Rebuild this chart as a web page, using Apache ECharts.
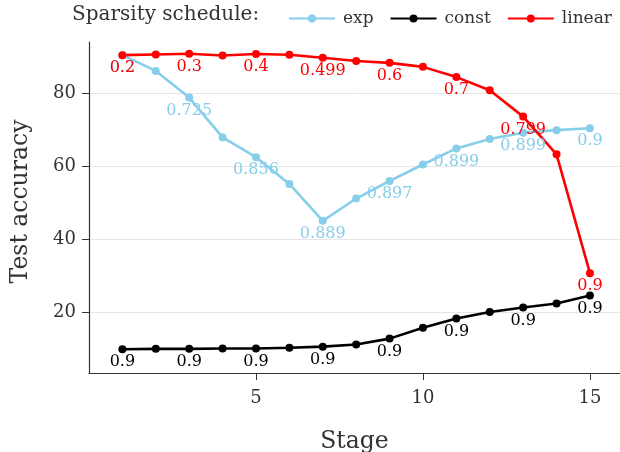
<!DOCTYPE html>
<html>
<head>
<meta charset="utf-8">
<script src="https://cdn.jsdelivr.net/npm/echarts@6/dist/echarts.min.js"></script>
<style>
  html, body { margin: 0; padding: 0; background: #fff; }
  #chart { width: 620px; height: 452px; }
</style>
</head>
<body>
<div id="chart"></div>
<script>
// stages 1..15
var stages = [1, 2, 3, 4, 5, 6, 7, 8, 9, 10, 11, 12, 13, 14, 15]

// test accuracy per schedule
var expAcc = [90.4, 86.1, 78.8, 67.9, 62.5, 55.2, 45.1, 51.2, 56.0, 60.5, 64.9, 67.5, 69.2, 69.9, 70.4]
var constAcc = [10.0, 10.1, 10.1, 10.2, 10.2, 10.4, 10.7, 11.3, 12.9, 15.9, 18.4, 20.2, 21.4, 22.5, 24.7]
var linearAcc = [90.4, 90.6, 90.8, 90.3, 90.7, 90.5, 89.7, 88.8, 88.3, 87.2, 84.4, 80.8, 73.6, 63.3, 30.8]

// sparsity labels (shown on odd stages)
var expSparsity = ['0.2', null, '0.725', null, '0.856', null, '0.889', null, '0.897', null, '0.899', null, '0.899', null, '0.9']
var constSparsity = ['0.9', null, '0.9', null, '0.9', null, '0.9', null, '0.9', null, '0.9', null, '0.9', null, '0.9']
var linearSparsity = ['0.2', null, '0.3', null, '0.4', null, '0.499', null, '0.6', null, '0.7', null, '0.799', null, '0.9']

var yTicks = [20, 40, 60, 80]
var xTicks = [5, 10, 15]

var font = 'DejaVu Serif'

function pairs(vals) {
    return stages.map(function (s, i) { return [s, vals[i]] })
}

function makeSeries(name, color, vals, labels) {
    return {
        name: name,
        type: 'line',
        data: pairs(vals),
        color: color,
        symbol: 'circle',
        symbolSize: 8,
        lineStyle: { width: 2.6, color: color },
        itemStyle: { color: color },
        animation: false,
        label: {
            show: true,
            position: 'bottom',
            distance: 1,
            color: color,
            fontFamily: font,
            fontSize: 16,
            formatter: function (p) {
                return labels[p.dataIndex] || ''
            }
        }
    }
}

let myChart = echarts.init(document.getElementById('chart'))
let option = {
    backgroundColor: '#fff',
    title: {
        text: 'Sparsity schedule:',
        left: 67,
        top: 0,
        textStyle: { fontFamily: font, fontSize: 20, fontWeight: 'normal', color: '#333' }
    },
    legend: {
        left: 288,
        top: 10,
        padding: 0,
        itemWidth: 46,
        itemHeight: 10,
        itemGap: 16,
        textStyle: { fontFamily: font, fontSize: 17, color: '#333', padding: [0, 0, 0, 3] },
        data: ['exp', 'const', 'linear']
    },
    grid: {
        left: 89,
        right: 0,
        top: 42,
        bottom: 79,
        containLabel: false,
        outerBoundsMode: 'none'
    },
    xAxis: {
        type: 'value',
        min: 0,
        max: 15.9,
        interval: 5,
        name: 'Stage',
        nameLocation: 'middle',
        nameGap: 57,
        nameTextStyle: { fontFamily: font, fontSize: 23.5, color: '#333' },
        axisLine: { lineStyle: { color: '#333', width: 1.2 } },
        axisTick: { length: 7, lineStyle: { color: '#333' }, customValues: xTicks },
        axisLabel: {
            fontFamily: font, fontSize: 18, color: '#333', margin: 16,
            customValues: xTicks
        },
        splitLine: { show: false }
    },
    yAxis: {
        type: 'value',
        min: 3.5,
        max: 94,
        name: 'Test accuracy',
        nameLocation: 'middle',
        nameGap: 56,
        nameTextStyle: { fontFamily: font, fontSize: 23.5, color: '#333', padding: [0, 0, 0, 12] },
        axisLine: { show: true, lineStyle: { color: '#333', width: 1.2 } },
        axisTick: { show: true, length: 7, lineStyle: { color: '#333' }, customValues: yTicks },
        axisLabel: { fontFamily: font, fontSize: 18, color: '#333', margin: 13, customValues: yTicks },
        splitLine: { show: true, lineStyle: { color: '#e6e6e6', width: 1 } }
    },
    series: [
        makeSeries('exp', '#87CEEB', expAcc, expSparsity),
        makeSeries('const', '#000000', constAcc, constSparsity),
        makeSeries('linear', '#FF0000', linearAcc, linearSparsity)
    ]
}
myChart.setOption(option)
</script>
</body>
</html>
